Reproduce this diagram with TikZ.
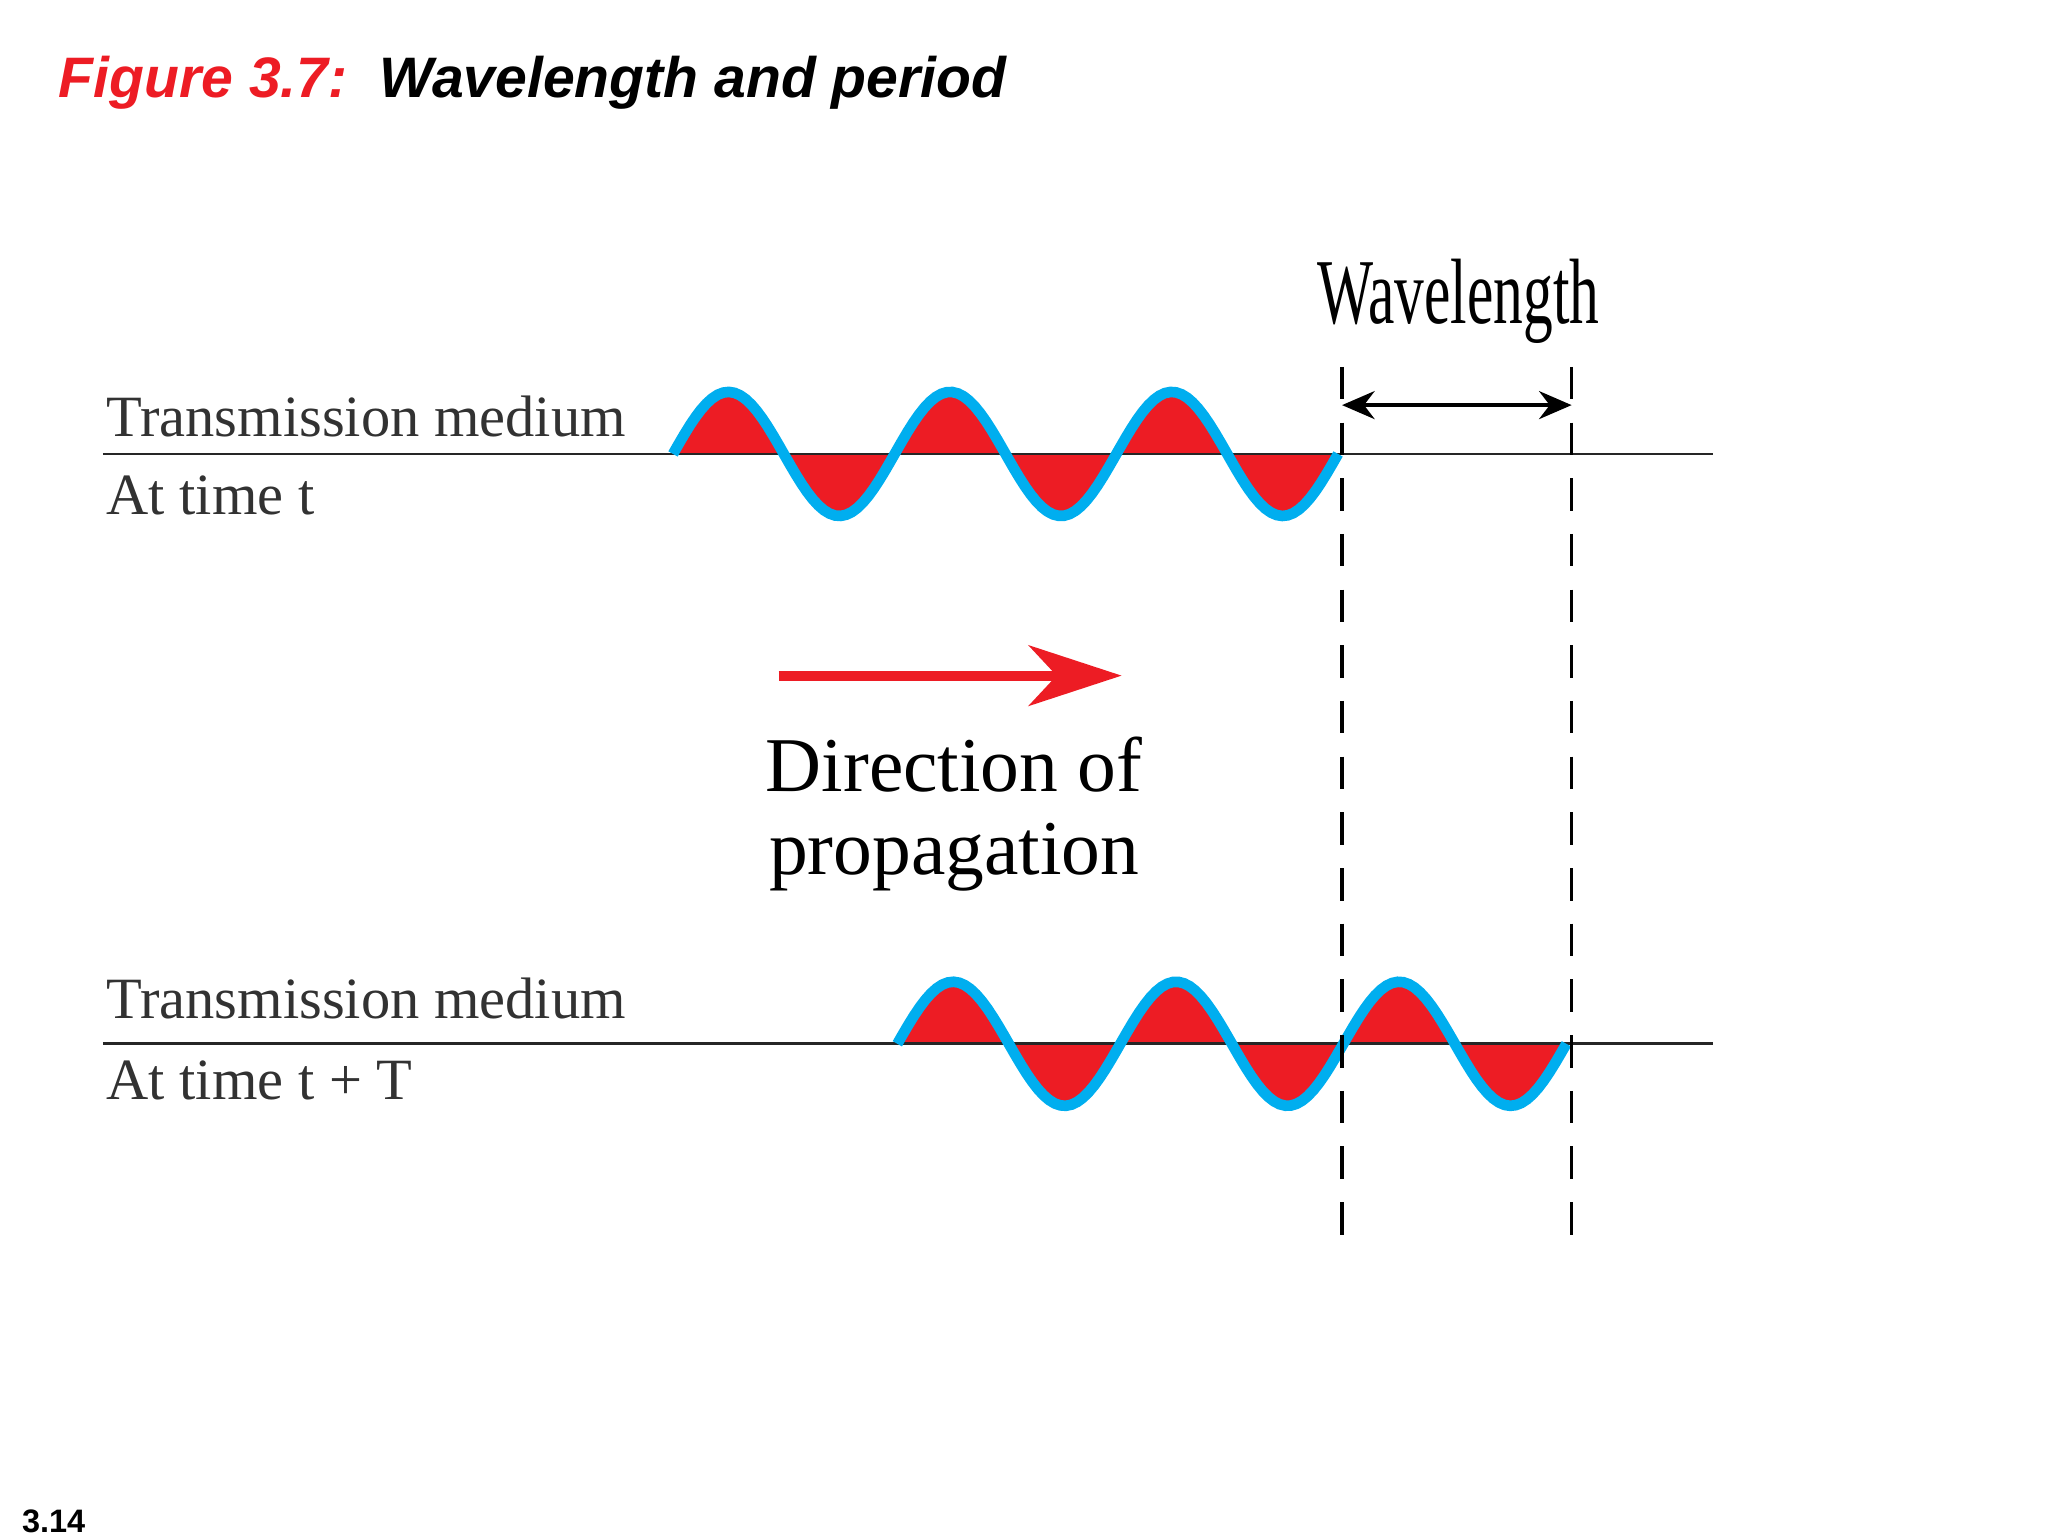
\documentclass[tikz,border=0pt]{standalone}
\usepackage{fontspec}
\setmainfont{Liberation Serif}
\newfontfamily\arialf{Liberation Sans}
\usetikzlibrary{arrows.meta}
\definecolor{wred}{RGB}{237,28,36}
\definecolor{wblue}{RGB}{0,174,239}
\definecolor{tgray}{RGB}{50,50,50}
\tikzset{
  lbl/.style={anchor=base west,inner sep=0pt,text=tgray,font=\fontsize{12.6}{15}\selectfont},
  axis/.style={line width=0.6pt,black!85},
  wave/.style={line width=2.3pt,wblue},
  vdash/.style={line width=0.7pt,dash pattern=on 7pt off 5pt}
}
\begin{document}
\begin{tikzpicture}[x=0.01cm,y=-0.01cm]
\useasboundingbox (0,0) rectangle (1552,1164);
% title
\node[anchor=base west,inner sep=0pt,font=\arialf\bfseries\itshape\fontsize{12.3}{15}\selectfont] (title) at (44,74) {\textcolor{wred}{Figure 3.7:}\ \ Wavelength and period};
\node[anchor=base west,inner sep=0pt,font=\arialf\bfseries\fontsize{7}{8}\selectfont] (pg) at (16,1161) {3.14};
% top
\fill[wred] (510,344) -- plot[domain=510:1014,samples=120] (\x,{344-47*sin((\x-510)/168*360)}) -- cycle;
\draw[axis] (78,344) -- (1298,344);
\draw[wave] plot[domain=510:1014,samples=120] (\x,{344-47*sin((\x-510)/168*360)});
\node[lbl] (tm1) at (80,331) {Transmission medium};
\node[lbl] (at1) at (80,390) {At time t};
% bottom
\fill[wred] (680,791) -- plot[domain=680:1187,samples=120] (\x,{791-47*sin((\x-680)/169*360)}) -- cycle;
\draw[axis] (78,791) -- (1298,791);
\draw[wave] plot[domain=680:1187,samples=120] (\x,{791-47*sin((\x-680)/169*360)});
\node[lbl] (tm2) at (80,772) {Transmission medium};
\node[lbl] (at2) at (80,833) {At time t + T};
% dashed
\coordinate (d1t) at (1017,278); \coordinate (d1b) at (1017,940);
\coordinate (d2t) at (1191,278); \coordinate (d2b) at (1191,940);
\draw[vdash] (d1t) -- (d1b);
\draw[vdash] (d2t) -- (d2b);
\coordinate (wa) at (1017,307); \coordinate (wb) at (1191,307);
\draw[line width=1pt,{Stealth[length=7pt,width=6pt]}-{Stealth[length=7pt,width=6pt]}] (wa) -- (wb);
\node[inner sep=0pt,xscale=0.64,font=\fontsize{20}{24}\selectfont] (wl) at (1105,228) {Wavelength};
% direction
\coordinate (ra) at (590,512); \coordinate (rb) at (850,512);
\draw[wred,line width=2.2pt,-{Stealth[length=20pt,width=13pt,inset=6pt]}] (ra) -- (rb);
\node[inner sep=0pt,align=center,font=\fontsize{16.7}{18}\selectfont] (dir) at (723,617) {Direction of\\propagation};
\end{tikzpicture}
\end{document}
